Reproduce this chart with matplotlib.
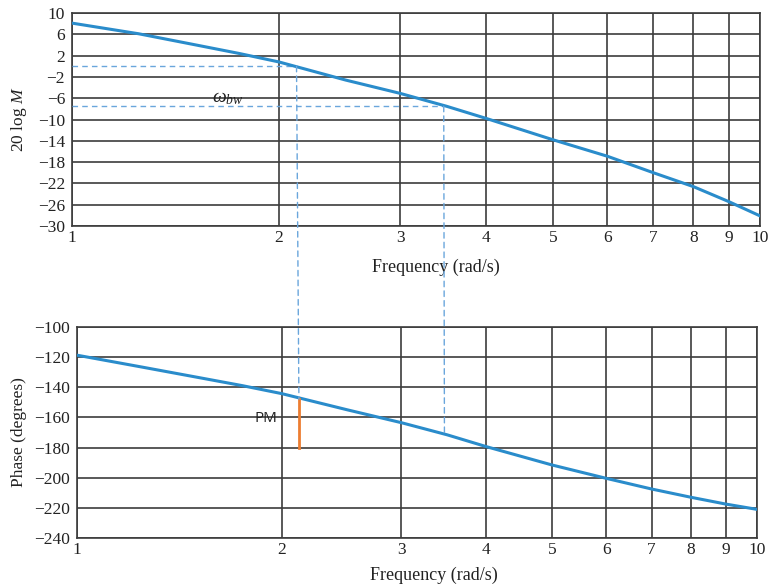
import numpy as np
import matplotlib.pyplot as plt
from matplotlib.patches import ConnectionPatch

plt.rcParams['mathtext.fontset'] = 'custom'
plt.rcParams['mathtext.it'] = 'Liberation Serif:italic'
plt.rcParams['mathtext.rm'] = 'Liberation Serif'

# frequency response read at these frequencies (rad/s)
freq = [1, 1.25, 1.5, 1.75, 2, 2.5, 3, 3.5, 4, 5, 6, 7, 8, 9, 10]
mag_db = [8.1, 6.1, 4.1, 2.4, 0.8, -2.6, -5.1, -7.5, -9.8, -13.8, -16.9, -20.0, -22.6, -25.4, -28.1]
phase_deg = [-118.7, -126.7, -133.3, -138.9, -144.2, -155, -163.5, -171.5, -179.4, -191.6, -200.4, -207.5, -213, -217.5, -221]

# closed-loop bandwidth construction and phase margin
w_cross = 2.12      # where 20 log M = 0
w_bw = 3.47         # where 20 log M = -7.5
level_cross = 0.0
level_bw = -7.5
phase_cross = -148
phase_bw_end = -170

mag_ticks = [10, 6, 2, -2, -6, -10, -14, -18, -22, -26, -30]
phase_ticks = [-100, -120, -140, -160, -180, -200, -220, -240]
freq_ticks = [1, 2, 3, 4, 5, 6, 7, 8, 9, 10]

blue = '#2a8ccb'
dash_blue = '#6aa6dc'
grid_col = '#3c3c3c'
text_col = '#222222'
serif = 'Liberation Serif'

fig = plt.figure(figsize=(7.69, 5.84), dpi=100)
ax1 = fig.add_axes([72/769, 1 - 226/584, 688/769, 213/584])
ax2 = fig.add_axes([77/769, 1 - 538/584, 680/769, 211/584])


def fmt(v):
    return str(v).replace('-', '\u2212')


for ax, ticks in ((ax1, mag_ticks), (ax2, phase_ticks)):
    ax.set_xscale('log')
    ax.set_xlim(1, 10)
    ax.set_ylim(min(ticks), max(ticks))
    ax.set_xticks(freq_ticks)
    ax.set_xticklabels([str(f) for f in freq_ticks])
    ax.xaxis.set_minor_locator(plt.NullLocator())
    ax.set_yticks(ticks)
    ax.set_yticklabels([fmt(t) for t in ticks])
    ax.tick_params(length=0, labelsize=12.5, colors=text_col)
    ax.tick_params(axis='x', pad=3)
    ax.tick_params(axis='y', pad=5)
    for lab in ax.get_xticklabels() + ax.get_yticklabels():
        lab.set_fontfamily(serif)
    ax.grid(True, color=grid_col, lw=1.2)
    for s in ax.spines.values():
        s.set_color(grid_col)
        s.set_linewidth(1.2)
    ax.set_xlabel('Frequency (rad/s)', fontfamily=serif, fontsize=13, color=text_col)

ax1.xaxis.set_label_coords(0.529, -0.155)
ax2.xaxis.set_label_coords(0.525, -0.135)

ax1.plot(freq, mag_db, color=blue, lw=2.2, zorder=5)
ax2.plot(freq, phase_deg, color=blue, lw=2.2, zorder=5)

ax1.set_ylabel('20 log $\\mathit{M}$', fontfamily=serif, fontsize=12.5, color=text_col)
ax2.set_ylabel('Phase (degrees)', fontfamily=serif, fontsize=12.5, color=text_col)
ax1.yaxis.set_label_coords(-0.062, 0.5)
ax2.yaxis.set_label_coords(-0.074, 0.5)

# horizontal dashed lines to the curve
dash = dict(color=dash_blue, lw=1.0, ls=(0, (4, 3)))
ax1.plot([1, w_cross], [level_cross, level_cross], zorder=4, **dash)
ax1.plot([1, w_bw], [level_bw, level_bw], zorder=4, **dash)

# vertical dashed lines carried down into the phase plot
for w, top, bottom in ((w_cross, level_cross, phase_cross), (w_bw, level_bw, phase_bw_end)):
    con = ConnectionPatch(xyA=(w, top), coordsA=ax1.transData,
                          xyB=(w, bottom), coordsB=ax2.transData,
                          zorder=4, **dash)
    fig.add_artist(con)

ax1.text(1.6, -5.9, '$\\omega_{bw}$', fontsize=14, ha='left', va='center', color=text_col)

# phase margin bar
ax2.plot([w_cross, w_cross], [phase_cross, -180], color='#ed7d31', lw=2.0, zorder=6)
ax2.text(1.97, -160.5, 'PM', fontfamily='Open Sans', fontsize=11, ha='right', va='center', color=text_col)

fig.savefig('out.png', dpi=100)
